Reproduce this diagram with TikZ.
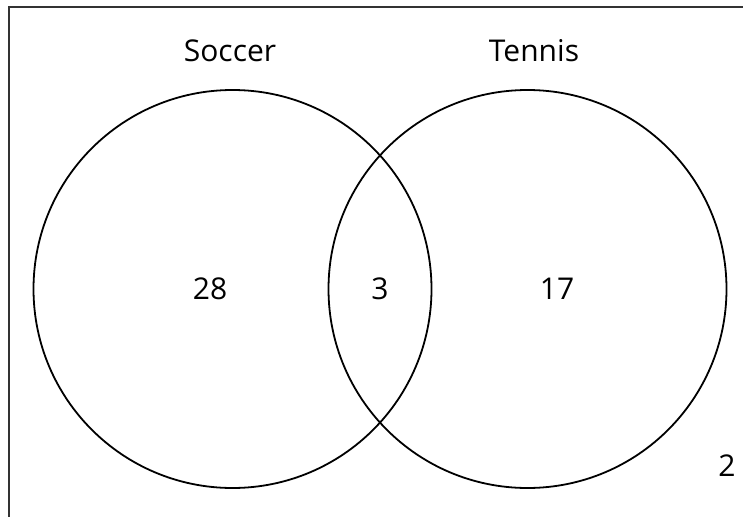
\documentclass[tikz,border=0pt]{standalone}
\usepackage{fontspec}
\setmainfont{Open Sans}
\begin{document}
\begin{tikzpicture}[x=1pt,y=-1pt,
  setcircle/.style={circle,draw=black,line width=1.8pt,minimum size=398pt,inner sep=0pt},
  lbl/.style={font=\fontsize{30}{36}\selectfont,anchor=base,inner sep=0pt},
  frameline/.style={draw=black!80,line width=2pt}]
\useasboundingbox (0,0) rectangle (743,516);
\node[setcircle] (soccer) at (232.5,289) {};
\node[setcircle] (tennis) at (527.5,289) {};
\node[lbl] (tsoccer) at (230,62) {Soccer};
\node[lbl] (ttennis) at (534,62) {Tennis};
\node[lbl] (n28) at (210,299) {28};
\node[lbl] (n3) at (380,299) {3};
\node[lbl] (n17) at (557,299) {17};
\node[lbl] (n2) at (727,476) {2};
\coordinate (fa) at (9,517);
\coordinate (fb) at (9,7);
\coordinate (fc) at (744,7);
\draw[frameline] (fa) -- (fb) -- (fc);
\end{tikzpicture}
\end{document}
